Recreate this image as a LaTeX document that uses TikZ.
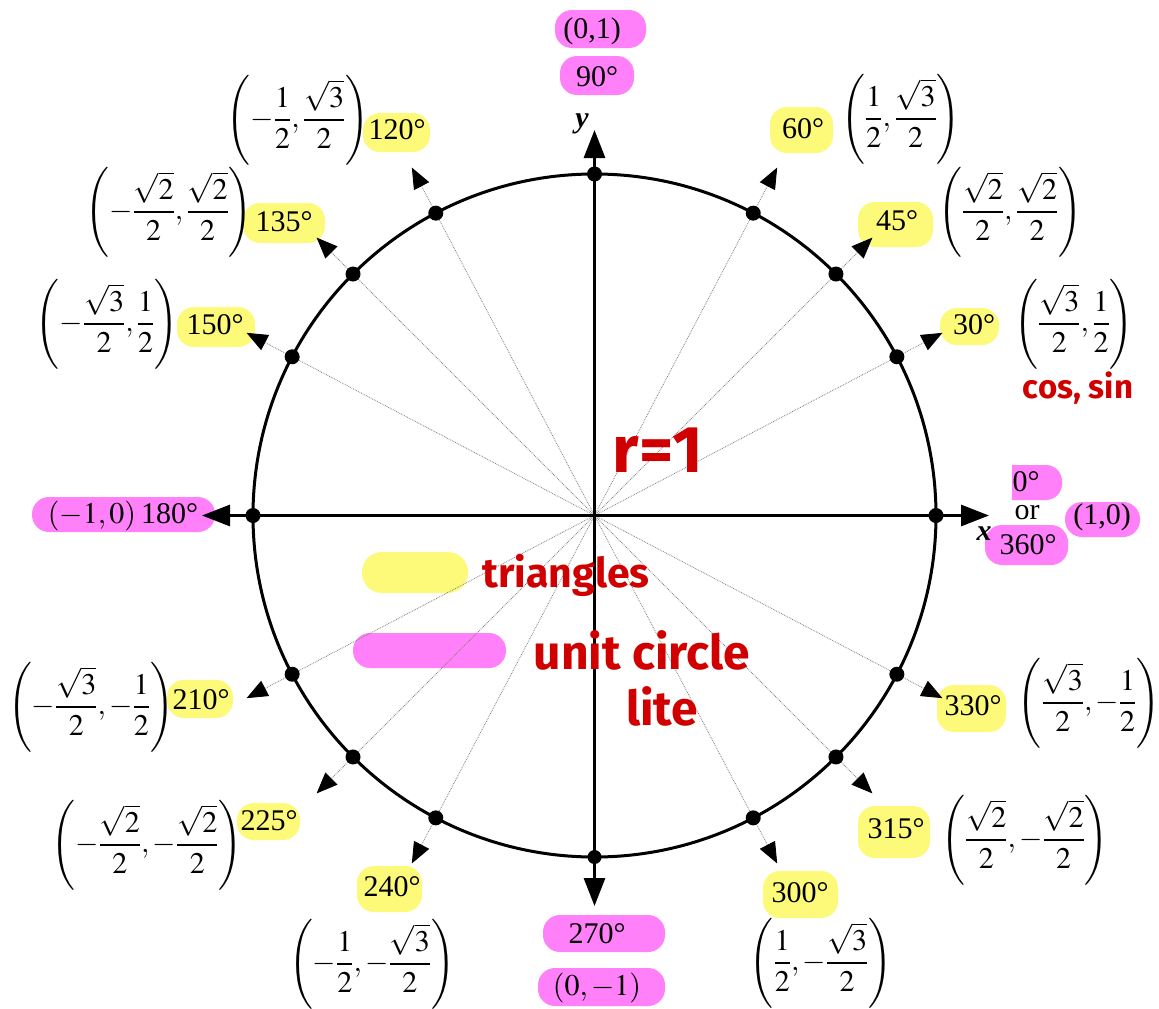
\documentclass[tikz,border=0pt]{standalone}
\usepackage{amsmath}
\usepackage{mathptmx}
\usepackage{fontspec}
\setmainfont{Liberation Serif}
\newfontfamily\handfont{Fira Sans}
\usetikzlibrary{arrows.meta,calc}
\definecolor{hly}{RGB}{252,250,120}
\definecolor{hlm}{RGB}{255,128,248}
\definecolor{ink}{RGB}{208,0,0}
\tikzset{
  lbl/.style={font=\fontsize{30}{36}\selectfont, inner sep=0pt},
  frac/.style={font=\fontsize{30}{36}\selectfont, inner sep=0pt},
  axl/.style={font=\fontsize{30}{36}\selectfont, inner sep=0pt},
  hand/.style={font=\handfont\bfseries, text=ink, inner sep=0pt},
  dot/.style={circle, fill=black, minimum size=15pt, inner sep=0pt},
  spoke/.style={draw=black!50, line width=0.8pt, densely dotted,
    -{Triangle[length=21pt,width=17pt,color=black]}},
  axis/.style={line width=3pt,
    {Triangle[length=28pt,width=21pt]}-{Triangle[length=28pt,width=21pt]}},
  hly/.style={fill=hly, rounded corners=17pt},
  hlm/.style={fill=hlm, rounded corners=17pt}
}
\begin{document}
\begin{tikzpicture}[x=1pt,y=-1pt]
\useasboundingbox[fill=white] (0,0) rectangle (1159,1009);
\coordinate (O) at (594.5,515.5);

% highlighter strokes
\fill[hlm] (555,10) rectangle (646,48);
\fill[hlm] (560,56) rectangle (634,95);
\fill[hlm, rounded corners=0pt] (1012,465) -- (1046,465) [rounded corners=16pt] -- (1062,465) -- (1062,500) [rounded corners=0pt] -- (1012,500) -- cycle;
\fill[hlm] (985,525) rectangle (1068,565);
\fill[hlm] (1065,502) rectangle (1140,537);
\fill[hlm] (32,497) rectangle (215,532);
\fill[hlm] (543,915) rectangle (665,952);
\fill[hlm] (538,968) rectangle (665,1006);
\fill[hlm] (353,633) rectangle (506,668);
\fill[hly] (770,107) rectangle (833,153);
\fill[hly] (858,202) rectangle (933,247);
\fill[hly] (940,308) rectangle (999,345);
\fill[hly] (363,113) rectangle (430,152);
\fill[hly] (243,203) rectangle (325,243);
\fill[hly] (177,307) rectangle (255,347);
\fill[hly] (167,680) rectangle (233,718);
\fill[hly] (237,803) rectangle (300,840);
\fill[hly] (357,866) rectangle (422,912);
\fill[hly] (763,871) rectangle (838,918);
\fill[hly] (858,806) rectangle (930,858);
\fill[hly] (937,685) rectangle (1006,732);
\fill[hly, rounded corners=20pt] (362,552) rectangle (468,593);

% spokes
\foreach \a/\n in {27.7/a30, 45/a45, 62.3/a60, 117.7/a120, 135/a135, 152.3/a150,
                   207.7/a210, 225/a225, 242.3/a240, 297.7/a300, 315/a315, 332.3/a330} {
  \coordinate (p\n) at ($(O)+(\a:341.5pt)$);
  \coordinate (t\n) at ($(O)+(\a:393pt)$);
  \draw[spoke] (O) -- (t\n);
}

% circle and axes
\draw[line width=3pt] (O) circle[radius=341.5pt];
\coordinate (E) at (989,515.5);
\coordinate (W) at (202,515.5);
\coordinate (N) at (594.5,130);
\coordinate (S) at (594.5,906);
\draw[axis] (W) -- (E);
\draw[axis] (S) -- (N);

% dots
\foreach \n in {a30,a45,a60,a120,a135,a150,a210,a225,a240,a300,a315,a330} {
  \node[dot] (d\n) at (p\n) {};
}
\node[dot] (d0) at ($(O)+(341.5,0)$) {};
\node[dot] (d90) at ($(O)+(0,-341.5)$) {};
\node[dot] (d180) at ($(O)+(-341.5,0)$) {};
\node[dot, minimum size=14pt] (d270) at ($(O)+(0,341.5)$) {};

% axis letters
\node[axl] (xl) at (984,534) {\textbf{\textit{x}}};
\node[axl] (yl) at (582,124) {\textbf{\textit{y}}};

% angle labels
\node[lbl] (l90c) at (592,31) {(0,1)};
\node[lbl] (l90) at (597,77) {90°};
\node[lbl] (l60) at (803,129) {60°};
\node[lbl] (l45) at (897,221) {45°};
\node[lbl] (l30) at (974,325) {30°};
\node[lbl] (l0) at (1026,482) {0°};
\node[lbl] (lor) at (1027,513) {or};
\node[lbl] (l360) at (1028,545) {360°};
\node[lbl] (l0c) at (1102,517) {(1,0)};
\node[lbl] (l120) at (397,130) {120°};
\node[lbl] (l135) at (284,222) {135°};
\node[lbl] (l150) at (215,325) {150°};
\node[lbl] (l180) at (123,516) {$(-1,0)$\,180°};
\node[lbl] (l210) at (201,700) {210°};
\node[lbl] (l225) at (269,821) {225°};
\node[lbl] (l240) at (392,887) {240°};
\node[lbl] (l270) at (597,934) {270°};
\node[lbl] (l270c) at (597,988) {$(0,-1)$};
\node[lbl] (l300) at (800,893) {300°};
\node[lbl] (l315) at (896,829) {315°};
\node[lbl] (l330) at (973,706) {330°};

% coordinate labels
\node[frac] (c60) at (901,119) {$\left(\dfrac{1}{2},\dfrac{\sqrt{3}}{2}\right)$};
\node[frac] (c45) at (1010,212) {$\left(\dfrac{\sqrt{2}}{2},\dfrac{\sqrt{2}}{2}\right)$};
\node[frac] (c30) at (1074,324) {$\left(\dfrac{\sqrt{3}}{2},\dfrac{1}{2}\right)$};
\node[frac] (c120) at (298,120) {$\left(-\dfrac{1}{2},\dfrac{\sqrt{3}}{2}\right)$};
\node[frac] (c135) at (169,212) {$\left(-\dfrac{\sqrt{2}}{2},\dfrac{\sqrt{2}}{2}\right)$};
\node[frac] (c150) at (107,324) {$\left(-\dfrac{\sqrt{3}}{2},\dfrac{1}{2}\right)$};
\node[frac] (c210) at (91,707) {$\left(-\dfrac{\sqrt{3}}{2},-\dfrac{1}{2}\right)$};
\node[frac] (c225) at (147,845) {$\left(-\dfrac{\sqrt{2}}{2},-\dfrac{\sqrt{2}}{2}\right)$};
\node[frac] (c240) at (372,964) {$\left(-\dfrac{1}{2},-\dfrac{\sqrt{3}}{2}\right)$};
\node[frac] (c300) at (821,963) {$\left(\dfrac{1}{2},-\dfrac{\sqrt{3}}{2}\right)$};
\node[frac] (c315) at (1025,840) {$\left(\dfrac{\sqrt{2}}{2},-\dfrac{\sqrt{2}}{2}\right)$};
\node[frac] (c330) at (1089,703) {$\left(\dfrac{\sqrt{3}}{2},-\dfrac{1}{2}\right)$};

% handwritten notes
\node[hand, font=\handfont\bfseries\fontsize{66}{72}\selectfont] (r1) at (658,450) {r=1};
\node[hand, font=\handfont\bfseries\fontsize{33}{38}\selectfont] (cs) at (1078,388) {cos, sin};
\node[hand, font=\handfont\bfseries\fontsize{41}{46}\selectfont] (tri) at (566,575) {triangles};
\node[hand, font=\handfont\bfseries\fontsize{48}{52}\selectfont] (uc) at (642,650) {unit circle};
\node[hand, font=\handfont\bfseries\fontsize{48}{52}\selectfont] (lite) at (662,706) {lite};
\end{tikzpicture}
\end{document}
